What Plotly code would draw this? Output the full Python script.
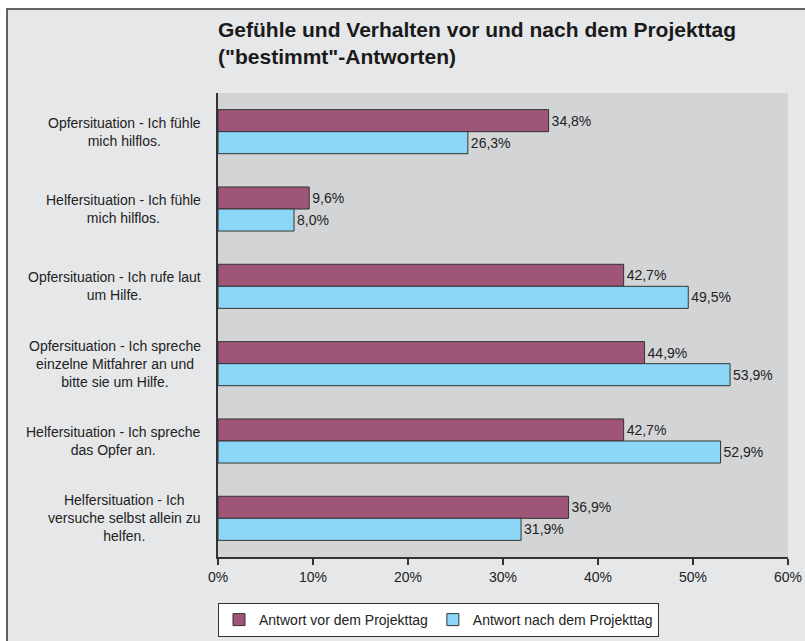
import plotly.graph_objects as go

categories = [
    "Opfersituation - Ich fühle<br>mich hilflos.",
    "Helfersituation - Ich fühle<br>mich hilflos.",
    "Opfersituation - Ich rufe laut<br>um Hilfe.",
    "Opfersituation - Ich spreche<br>einzelne Mitfahrer an und<br>bitte sie um Hilfe.",
    "Helfersituation - Ich spreche<br>das Opfer an.",
    "Helfersituation - Ich<br>versuche selbst allein zu<br>helfen.",
]
cat_ids = ["c1", "c2", "c3", "c4", "c5", "c6"]
vor = [34.8, 9.6, 42.7, 44.9, 42.7, 36.9]
nach = [26.3, 8.0, 49.5, 53.9, 52.9, 31.9]
series_names = ["Antwort vor dem Projekttag", "Antwort nach dem Projekttag"]
x_ticks = [0, 10, 20, 30, 40, 50, 60]
x_tick_text = ["0%", "10%", "20%", "30%", "40%", "50%", "60%"]
title_text = "Gefühle und Verhalten vor und nach dem Projekttag<br>(\"bestimmt\"-Antworten)"

FONT = "Liberation Sans, Arial, sans-serif"
W, H = 805, 641
L, R, T, B = 218, 17, 93, 84
pw, ph = W - L - R, H - T - B


def px_x(px):
    return (px - L) / pw


def px_y(py):
    return 1 + (T - py) / ph


fig = go.Figure()
for name, vals, col in [(series_names[0], vor, "#9E5577"), (series_names[1], nach, "#8CD7F7")]:
    fig.add_trace(go.Bar(
        y=cat_ids, x=vals, name=name, orientation="h",
        marker=dict(color=col, line=dict(color="#333333", width=1)),
        texttemplate="%{x:.1f}%", textposition="outside",
        textfont=dict(family=FONT, size=14, color="#222222"),
        cliponaxis=False,
    ))

annotations = []
for cid, lab in zip(cat_ids, categories):
    annotations.append(dict(
        x=px_x(203), xref="paper", y=cid, yref="y",
        text=lab, showarrow=False, xanchor="right", yanchor="middle", align="center",
        font=dict(family=FONT, size=14, color="#222222"),
    ))
annotations.append(dict(
    x=px_x(216), xref="paper", y=px_y(16), yref="paper",
    text=title_text, showarrow=False, xanchor="left", yanchor="top", align="left",
    font=dict(family=FONT, size=21, color="#1a1a1a", weight="bold"),
))

shapes = [
    dict(type="rect", xref="paper", yref="paper", layer="below",
         x0=px_x(7), x1=1.2, y0=-0.5, y1=px_y(9),
         fillcolor="#E6E7E9", line=dict(color="#333333", width=1.5)),
    dict(type="rect", xref="paper", yref="paper", layer="below",
         x0=0, x1=1, y0=0, y1=1,
         fillcolor="#D3D4D6", line=dict(width=0)),
]

fig.update_layout(
    width=W, height=H, autosize=False,
    margin=dict(l=L, r=R, t=T, b=B, pad=0, autoexpand=False),
    paper_bgcolor="white", plot_bgcolor="#D3D4D6",
    separators=",.",
    barmode="group", bargap=0.43, bargroupgap=0,
    showlegend=True,
    legend=dict(
        orientation="h", x=0, xanchor="left", y=px_y(603), yanchor="top",
        bgcolor="white", bordercolor="#333333", borderwidth=1,
        font=dict(family=FONT, size=14, color="#222222"),
        traceorder="normal", itemwidth=30,
    ),
    xaxis=dict(
        range=[0, 60], tickvals=x_ticks, ticktext=x_tick_text, showgrid=False, zeroline=False,
        showline=True, linecolor="#333333", linewidth=1.5, automargin=False,
        ticks="outside", ticklen=6, tickcolor="#333333", tickwidth=1.5,
        tickfont=dict(family=FONT, size=14, color="#222222"),
    ),
    yaxis=dict(
        autorange="reversed", showticklabels=False, showgrid=False, zeroline=False,
        showline=True, linecolor="#333333", linewidth=1.5, ticks="", automargin=False,
    ),
    annotations=annotations, shapes=shapes,
)

fig.write_html(
    "out.html",
    config={"displayModeBar": False},
    post_script="document.body.style.margin='0';document.body.style.overflow='hidden';",
)
